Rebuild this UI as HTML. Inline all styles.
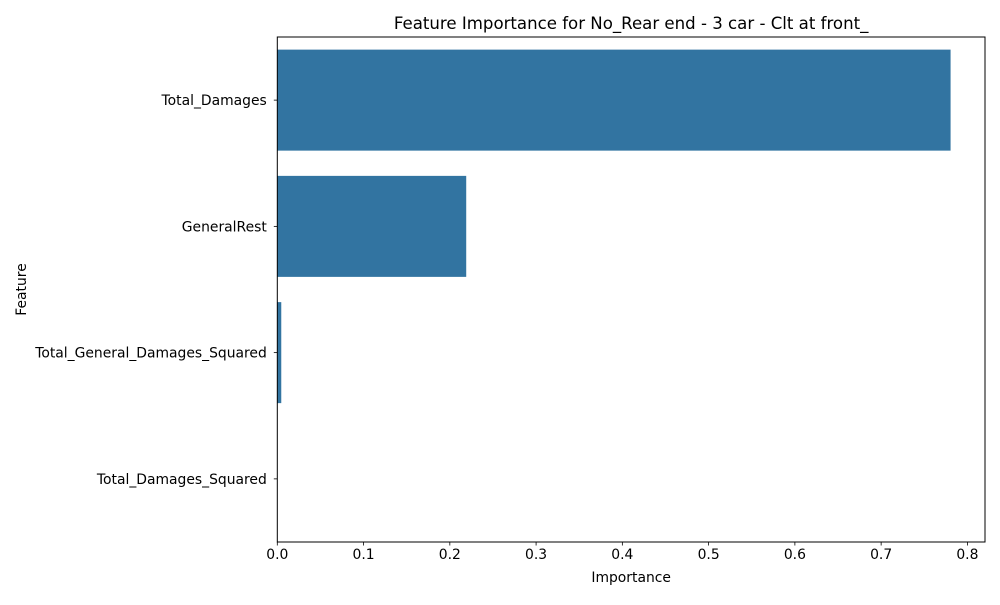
<!DOCTYPE html>
<html><head><meta charset="utf-8"><style>
body{margin:0;background:#fff}
svg text{font-family:"DejaVu Sans","Liberation Sans",sans-serif;fill:#000}
</style></head><body>
<svg id="chart" width="1000" height="600" xmlns="http://www.w3.org/2000/svg">
<rect width="1000" height="600" fill="#fff"/>
<g id="plot"></g>
</svg>
<script>
const features = ["Total_Damages","GeneralRest","Total_General_Damages_Squared","Total_Damages_Squared"];
const importance = [0.7805, 0.2190, 0.0046, 0.0];
const xTicks = [0,0.1,0.2,0.3,0.4,0.5,0.6,0.7,0.8];
const xTickLabels = ["0.0","0.1","0.2","0.3","0.4","0.5","0.6","0.7","0.8"];
const X0=277.3,X1=985,Y0=37,Y1=542,XMAX=0.8204;
const ns="http://www.w3.org/2000/svg";
const g=document.getElementById('plot');
function xs(v){return X0+(v/XMAX)*(X1-X0);}
const band=(Y1-Y0)/features.length;
function yc(i){return Y0+band*(i+0.5);}
function mk(t,a,txt){const e=document.createElementNS(ns,t);for(const k in a)e.setAttribute(k,a[k]);if(txt!==undefined)e.textContent=txt;g.appendChild(e);return e;}
features.forEach((f,i)=>{
  const h=band*0.8;
  const r=mk('rect',{x:X0,y:yc(i)-h/2,width:Math.max(0,xs(importance[i])-X0),height:h,fill:'#3274a1'});
  
  
  const tk=mk('line',{x1:X0-3.5,x2:X0,y1:yc(i),y2:yc(i),stroke:'#000','stroke-width':0.8});
  
  
  const t=mk('text',{x:X0-10.5,y:yc(i)+5,'text-anchor':'end','font-size':'13.9px'},f);
  
  
});
xTicks.forEach((v,i)=>{
  const tk=mk('line',{x1:xs(v),x2:xs(v),y1:Y1,y2:Y1+3.5,stroke:'#000','stroke-width':0.8});
  
  
  const t=mk('text',{x:xs(v),y:Y1+17,'text-anchor':'middle','font-size':'13.9px'},xTickLabels[i]);
  
  
});
const fr=mk('rect',{x:X0,y:Y0,width:X1-X0,height:Y1-Y0,fill:'none',stroke:'#000','stroke-width':1});


const ti=mk('text',{x:(X0+X1)/2,y:29,'text-anchor':'middle','font-size':'16.6px'},'Feature Importance for No_Rear end - 3 car - Clt at front_');


const xl=mk('text',{x:(X0+X1)/2,y:582,'text-anchor':'middle','font-size':'13.9px'},'Importance');


const yl=mk('text',{x:0,y:0,'text-anchor':'middle','font-size':'13.9px',transform:'translate(26,'+((Y0+Y1)/2)+') rotate(-90)'},'Feature');


</script>
</body></html>
